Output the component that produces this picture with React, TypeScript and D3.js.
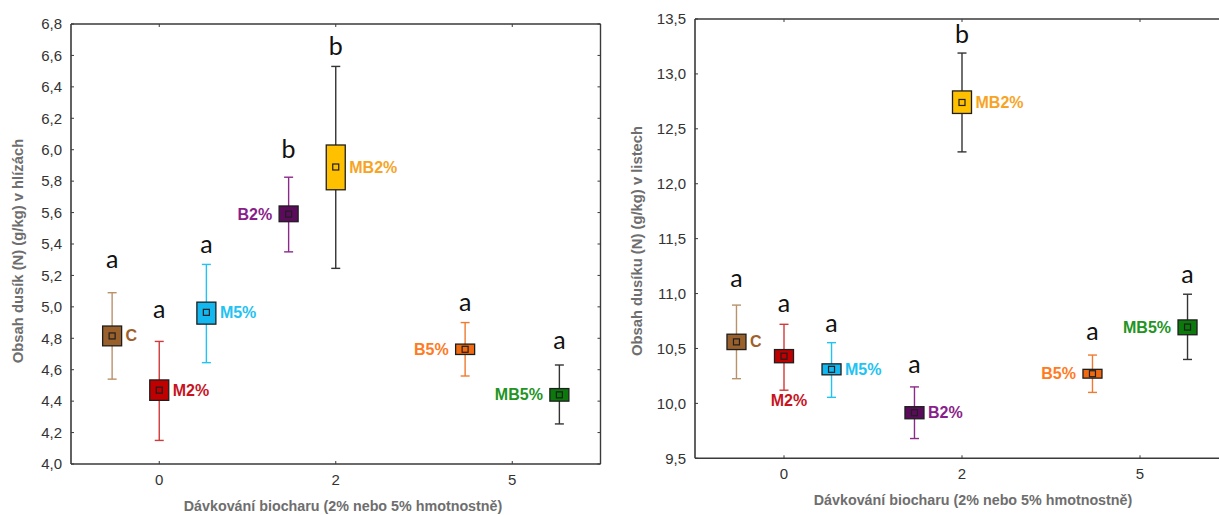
import React from "react";
import * as d3 from "d3";

// ---------- data ----------
const groups = ["0", "2", "5"];
const treatments = ["C", "M2%", "M5%", "B2%", "MB2%", "B5%", "MB5%"];
const treatmentGroup = ["0", "0", "0", "2", "2", "5", "5"];
const treatmentSlot = ["L", "M", "R", "L", "M", "L", "R"];

// tubers (hlízy)
const tuberTicks = [4.0, 4.2, 4.4, 4.6, 4.8, 5.0, 5.2, 5.4, 5.6, 5.8, 6.0, 6.2, 6.4, 6.6, 6.8];
const tuberMean = [4.815, 4.47, 4.965, 5.59, 5.89, 4.73, 4.44];
const tuberBoxLow = [4.752, 4.405, 4.89, 5.542, 5.745, 4.697, 4.40];
const tuberBoxHigh = [4.878, 4.535, 5.03, 5.642, 6.03, 4.763, 4.48];
const tuberWhiskLow = [4.54, 4.15, 4.645, 5.35, 5.245, 4.56, 4.255];
const tuberWhiskHigh = [5.09, 4.78, 5.27, 5.825, 6.53, 4.90, 4.63];
const tuberLetters = ["a", "a", "a", "b", "b", "a", "a"];
const tuberLetterAt = [5.25, 4.93, 5.34, 5.95, 6.6, 4.976, 4.73];
const tuberLabelSide = ["right", "right", "right", "left", "right", "left", "left"];

// leaves (listy)
const leafTicks = [9.5, 10.0, 10.5, 11.0, 11.5, 12.0, 12.5, 13.0, 13.5];
const leafMean = [10.56, 10.43, 10.31, 9.915, 12.74, 10.27, 10.695];
const leafBoxLow = [10.49, 10.37, 10.26, 9.86, 12.64, 10.23, 10.625];
const leafBoxHigh = [10.63, 10.49, 10.36, 9.97, 12.845, 10.31, 10.76];
const leafWhiskLow = [10.225, 10.12, 10.055, 9.68, 12.29, 10.10, 10.40];
const leafWhiskHigh = [10.895, 10.72, 10.553, 10.15, 13.19, 10.44, 10.994];
const leafLetters = ["a", "a", "a", "a", "b", "a", "a"];
const leafLetterAt = [11.06, 10.835, 10.653, 10.274, 13.28, 10.577, 11.1];
const leafLabelSide = ["right", "below", "right", "right", "right", "left", "left"];

const fillColors = ["#99602c", "#c00000", "#12b8ef", "#5c0b5c", "#ffc000", "#f26a10", "#0b790b"];
const labelColors = ["#a0602a", "#c8141e", "#22c2f2", "#8a1e8a", "#f7a425", "#ff7a22", "#229422"];
const whiskerColors = ["#b8926a", "#d03a3a", "#22c2f2", "#8b2a8b", "#333333", "#f07a30", "#333333"];

const xTitle = "Dávkování biocharu (2% nebo 5% hmotnostně)";
const tuberYTitle = "Obsah dusík (N) (g/kg) v hlízách";
const leafYTitle = "Obsah dusíku (N) (g/kg) v listech";

const fmt = (v: number) => v.toFixed(1).replace(".", ",");

type PanelProps = {
  x0: number; x1: number; yTop: number; yBottom: number;
  ticks: number[]; mean: number[]; boxLow: number[]; boxHigh: number[];
  whiskLow: number[]; whiskHigh: number[]; letters: string[]; letterAt: number[];
  labelSide: string[]; yTitle: string; yTitleX: number; yTitleY: number;
  xTitleX: number; xTitleY: number; rightBorder: boolean;
};

function Panel(p: PanelProps) {
  const y = d3.scaleLinear().domain([p.ticks[0], p.ticks[p.ticks.length - 1]]).range([p.yBottom, p.yTop]);
  const xBand = d3.scaleBand().domain(groups).range([p.x0, p.x1]).padding(0);
  const bw = xBand.bandwidth();
  const slot = d3.scalePoint().domain(["L", "M", "R"]).range([-bw * 0.267, bw * 0.267]);
  const cx = (i: number) => (xBand(treatmentGroup[i]) as number) + bw / 2 + (slot(treatmentSlot[i]) as number);
  const axisColor = "#3a3a3a";
  const tl = 3;
  const boxW = 19;
  const capW = 9;
  const font = "Liberation Sans, Arial, sans-serif";
  return (
    <g>
      {/* frame */}
      <line x1={p.x0} x2={p.x0} y1={p.yTop} y2={p.yBottom} stroke={axisColor} strokeWidth={1.6} />
      <line x1={p.x0} x2={p.x1} y1={p.yBottom} y2={p.yBottom} stroke={axisColor} strokeWidth={1.6} />
      <line x1={p.x0} x2={p.x1} y1={p.yTop} y2={p.yTop} stroke={axisColor} strokeWidth={1.4} />
      {p.rightBorder && <line x1={p.x1} x2={p.x1} y1={p.yTop} y2={p.yBottom} stroke={axisColor} strokeWidth={1.4} />}
      {/* y ticks */}
      {p.ticks.map((t) => (
        <g key={"yt" + t}>
          <line x1={p.x0} x2={p.x0 + tl} y1={y(t)} y2={y(t)} stroke={axisColor} strokeWidth={1} />
          {p.rightBorder && <line x1={p.x1} x2={p.x1 - tl} y1={y(t)} y2={y(t)} stroke={axisColor} strokeWidth={1} />}
          <text x={p.x0 - 9} y={y(t)} dy="0.35em" textAnchor="end" fontFamily={font} fontSize={15} fill="#333">
            {fmt(t)}
          </text>
        </g>
      ))}
      {/* x ticks */}
      {groups.map((g) => {
        const gx = (xBand(g) as number) + bw / 2;
        return (
          <g key={"xt" + g}>
            <line x1={gx} x2={gx} y1={p.yBottom} y2={p.yBottom - tl} stroke={axisColor} strokeWidth={1} />
            <line x1={gx} x2={gx} y1={p.yTop} y2={p.yTop + tl} stroke={axisColor} strokeWidth={1} />
            <text x={gx} y={p.yBottom + 21} textAnchor="middle" fontFamily={font} fontSize={15} fill="#333">
              {g}
            </text>
          </g>
        );
      })}
      {/* titles */}
      <text x={p.xTitleX} y={p.xTitleY} textAnchor="middle" fontFamily={font} fontWeight="bold" fontSize={14.3} fill="#6e6e6e">
        {xTitle}
      </text>
      <text transform={`translate(${p.yTitleX},${p.yTitleY}) rotate(-90)`} textAnchor="middle" fontFamily={font} fontWeight="bold" fontSize={14.8} fill="#6e6e6e">
        {p.yTitle}
      </text>
      {/* marks */}
      {treatments.map((name, i) => {
        const x = cx(i);
        const wc = whiskerColors[i];
        const yb = y(p.boxHigh[i]);
        const bh = y(p.boxLow[i]) - yb;
        const ym = y(p.mean[i]);
        const side = p.labelSide[i];
        let lx = x, ly = ym + 5.5, anchor = "start";
        if (side === "right") { lx = x + boxW / 2 + 4; anchor = "start"; }
        else if (side === "left") { lx = x - boxW / 2 - 7; anchor = "end"; }
        else { lx = x + 5; ly = y(p.whiskLow[i]) + 16; anchor = "middle"; }
        return (
          <g key={name}>
            <line x1={x} x2={x} y1={y(p.whiskHigh[i])} y2={y(p.whiskLow[i])} stroke={wc} strokeWidth={1.4} />
            <line x1={x - capW / 2} x2={x + capW / 2} y1={y(p.whiskHigh[i])} y2={y(p.whiskHigh[i])} stroke={wc} strokeWidth={1.4} />
            <line x1={x - capW / 2} x2={x + capW / 2} y1={y(p.whiskLow[i])} y2={y(p.whiskLow[i])} stroke={wc} strokeWidth={1.4} />
            <rect x={x - boxW / 2} y={yb} width={boxW} height={bh} fill={fillColors[i]} stroke="#1e1e1e" strokeWidth={1.3} />
            <rect x={x - 3} y={ym - 3} width={6} height={6} fill={fillColors[i]} stroke="#1e1e1e" strokeWidth={1.2} />
            <text x={x} y={y(p.letterAt[i])} textAnchor="middle" fontFamily="Lato, 'Open Sans', sans-serif" fontSize={25} fill="#111">
              {p.letters[i]}
            </text>
            <text x={lx} y={ly} textAnchor={anchor} fontFamily={font} fontWeight="bold" fontSize={16} fill={labelColors[i]}>
              {name}
            </text>
          </g>
        );
      })}
    </g>
  );
}

export default function App() {
  return (
    <svg width={1219} height={515} style={{ position: "absolute", left: 0, top: 0, background: "#fff" }}>
      <rect x={0} y={0} width={1219} height={515} fill="#fff" />
      <Panel
        x0={71} x1={600.5} yTop={24} yBottom={464}
        ticks={tuberTicks} mean={tuberMean} boxLow={tuberBoxLow} boxHigh={tuberBoxHigh}
        whiskLow={tuberWhiskLow} whiskHigh={tuberWhiskHigh} letters={tuberLetters} letterAt={tuberLetterAt}
        labelSide={tuberLabelSide} yTitle={tuberYTitle} yTitleX={23} yTitleY={251}
        xTitleX={343} xTitleY={511} rightBorder={true}
      />
      <Panel
        x0={695} x1={1229} yTop={19} yBottom={458.3}
        ticks={leafTicks} mean={leafMean} boxLow={leafBoxLow} boxHigh={leafBoxHigh}
        whiskLow={leafWhiskLow} whiskHigh={leafWhiskHigh} letters={leafLetters} letterAt={leafLetterAt}
        labelSide={leafLabelSide} yTitle={leafYTitle} yTitleX={642} yTitleY={241}
        xTitleX={973} xTitleY={505} rightBorder={true}
      />
    </svg>
  );
}
